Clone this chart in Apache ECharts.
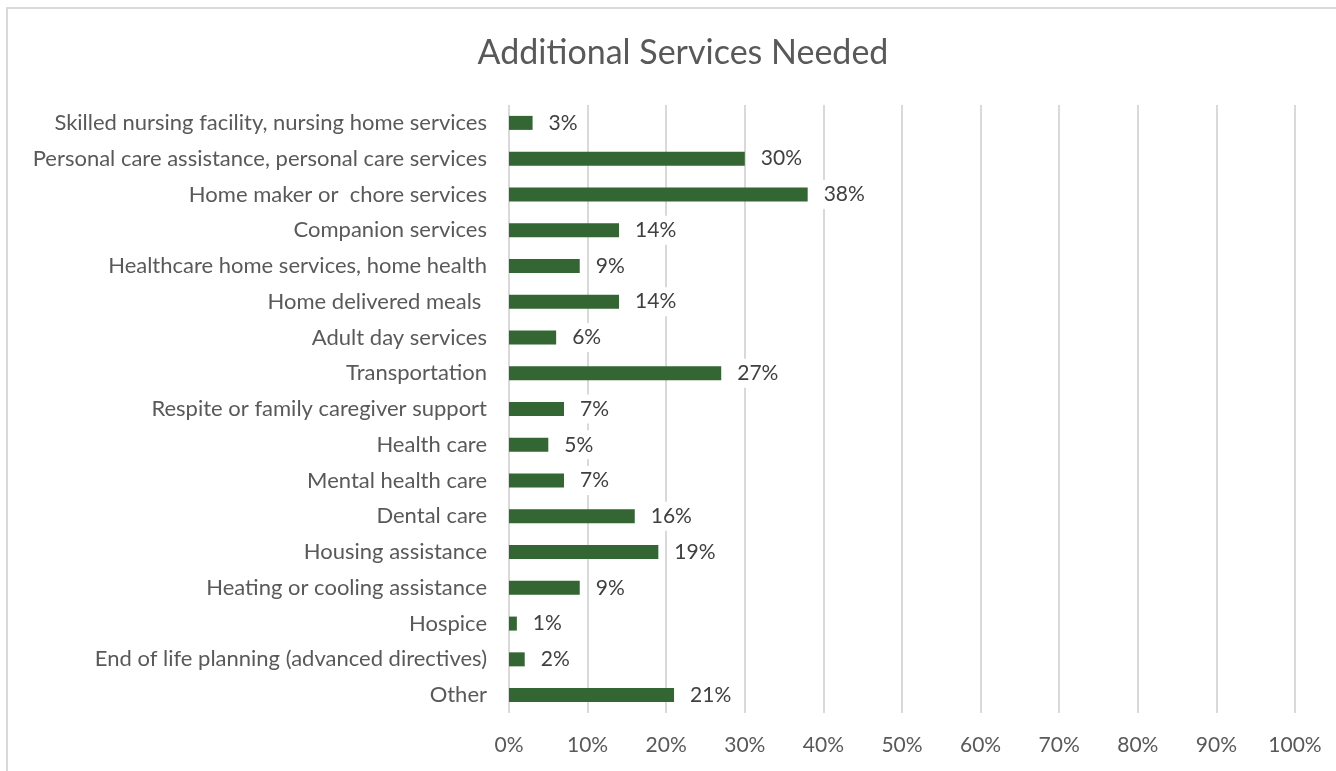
<!DOCTYPE html>
<html>
<head>
<meta charset="utf-8">
<script src="https://cdn.jsdelivr.net/npm/echarts@6/dist/echarts.min.js"></script>
<style>
html,body{margin:0;padding:0;background:#fff;overflow:hidden;}
#frame{position:absolute;left:6px;top:7px;width:1500px;height:900px;border-left:2px solid #d9d9d9;border-top:2px solid #d9d9d9;}
#chart{position:absolute;left:0;top:0;width:1336px;height:771px;}
</style>
</head>
<body>
<div id="frame"></div>
<div id="chart"></div>
<script>
const categories = [
  "Skilled nursing facility, nursing home services",
  "Personal care assistance, personal care services",
  "Home maker or  chore services",
  "Companion services",
  "Healthcare home services, home health",
  "Home delivered meals ",
  "Adult day services",
  "Transportation",
  "Respite or family caregiver support",
  "Health care",
  "Mental health care",
  "Dental care",
  "Housing assistance",
  "Heating or cooling assistance",
  "Hospice",
  "End of life planning (advanced directives)",
  "Other"
];
const values = [3, 30, 38, 14, 9, 14, 6, 27, 7, 5, 7, 16, 19, 9, 1, 2, 21];
const xTicks = [0, 10, 20, 30, 40, 50, 60, 70, 80, 90, 100];

const font = "Lato, 'Open Sans', sans-serif";
const chart = echarts.init(document.getElementById('chart'), null, {renderer: 'canvas'});
chart.setOption({
  animation: false,
  title: {
    text: 'Additional Services Needed',
    left: 678, textAlign: 'center', top: 31,
    textStyle: {fontFamily: font, fontSize: 34, fontWeight: 'normal', color: '#595959'}
  },
  grid: {left: 509, right: 41, top: 105, bottom: 58, containLabel: false},
  xAxis: {
    type: 'value', min: xTicks[0], max: xTicks[xTicks.length - 1], interval: 10,
    axisLine: {show: false}, axisTick: {show: false},
    splitLine: {show: true, lineStyle: {color: '#d9d9d9', width: 2}},
    axisLabel: {formatter: v => v + '%', fontFamily: font, fontSize: 21, color: '#595959', margin: 22}
  },
  yAxis: {
    type: 'category', data: categories, inverse: true,
    axisLine: {show: false}, axisTick: {show: false},
    axisLabel: {fontFamily: font, fontSize: 22, color: '#595959', margin: 22}
  },
  series: [{
    type: 'bar', data: values, barWidth: 14,
    itemStyle: {color: '#336633'},
    label: {
      show: true, position: 'right', distance: 10,
      formatter: p => p.value + '%',
      fontFamily: font, fontSize: 21, color: '#404040',
      backgroundColor: '#ffffff', padding: [4, 6]
    }
  }]
});
</script>
</body>
</html>
